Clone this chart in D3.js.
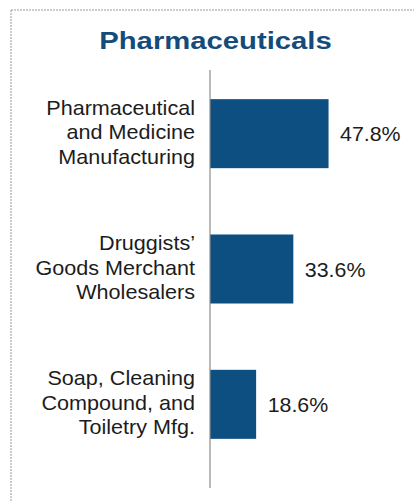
<!DOCTYPE html>
<html>
<head>
<meta charset="utf-8">
<script src="https://cdn.jsdelivr.net/npm/d3@7"></script>
<style>
  html, body { margin: 0; padding: 0; background: #ffffff; }
  svg { display: block; }
  text { font-family: "Liberation Sans", Arial, Helvetica, sans-serif; }
</style>
</head>
<body>
<div id="chart"></div>
<script>
// Industry categories (each label broken into its display lines)
const categories = [
  ["Pharmaceutical", "and Medicine", "Manufacturing"],
  ["Druggists\u2019", "Goods Merchant", "Wholesalers"],
  ["Soap, Cleaning", "Compound, and", "Toiletry Mfg."]
];
// Share of the sector, percent
const values = [47.8, 33.6, 18.6];
const title = "Pharmaceuticals";

const width = 414, height = 501;
const barColor = "#0e4f82";
const titleColor = "#154b7b";
const textColor = "#1c1c1c";

const svg = d3.select("#chart").append("svg")
  .attr("width", width)
  .attr("height", height);

// Framing box (continues beyond the right and bottom edges)
svg.append("rect")
  .attr("x", 11).attr("y", 10)
  .attr("width", width + 20).attr("height", height + 20)
  .attr("fill", "none")
  .attr("stroke", "#9a9a9a")
  .attr("stroke-width", 1)
  .attr("stroke-dasharray", "2,1");

const keys = categories.map(c => c.join(" "));

const x = d3.scaleLinear().domain([0, 50]).range([210, 334]);
const y = d3.scaleBand().domain(keys).range([66, 472])
  .paddingInner(0.49).paddingOuter(0.245);

// Title
svg.append("g")
  .attr("transform", `translate(215.5,49.3) scale(1.18,1)`)
  .append("text")
  .attr("text-anchor", "middle")
  .attr("font-weight", "bold")
  .attr("font-size", 24.8)
  .attr("fill", titleColor)
  .text(title);

// Bars
svg.append("g").selectAll("rect")
  .data(values)
  .join("rect")
  .attr("x", x(0))
  .attr("y", (d, i) => y(keys[i]))
  .attr("width", d => x(d) - x(0))
  .attr("height", y.bandwidth())
  .attr("fill", barColor);

// Baseline axis
svg.append("line")
  .attr("x1", x(0)).attr("x2", x(0))
  .attr("y1", 70).attr("y2", 488)
  .attr("stroke", "#8c8c8c")
  .attr("stroke-width", 1.2);

// Category labels, right-aligned left of the axis
const lineGap = 24.5;
const labelGroups = svg.append("g").selectAll("g")
  .data(categories)
  .join("g")
  .attr("transform", (d, i) => `translate(195,${y(keys[i]) + y.bandwidth() / 2 + 5.5}) scale(1.08,1)`);

labelGroups.selectAll("text")
  .data(d => d.map((line, j) => ({ line, j, n: d.length })))
  .join("text")
  .attr("text-anchor", "end")
  .attr("y", d => (d.j - (d.n - 1) / 2) * lineGap)
  .attr("font-size", 20)
  .attr("fill", textColor)
  .text(d => d.line);

// Value labels at the bar ends
const fmt = d3.format(".1f");
svg.append("g").selectAll("g")
  .data(values)
  .join("g")
  .attr("transform", (d, i) => `translate(${x(d) + 11.5},${y(keys[i]) + y.bandwidth() / 2 + 7.5}) scale(1.09,1)`)
  .append("text")
  .attr("text-anchor", "start")
  .attr("font-size", 19.6)
  .attr("fill", textColor)
  .text(d => fmt(d) + "%");
</script>
</body>
</html>
